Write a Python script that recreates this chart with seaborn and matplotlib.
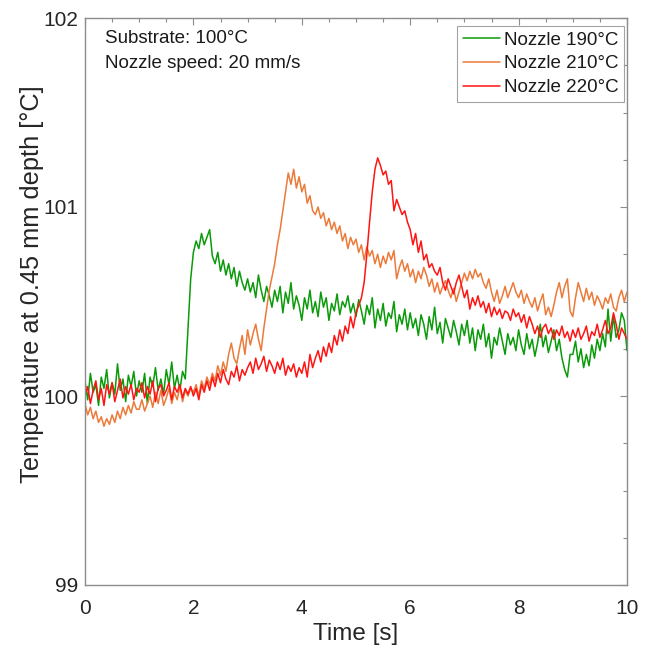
import numpy as np
import pandas as pd
import matplotlib
matplotlib.use("Agg")
import matplotlib.pyplot as plt
import seaborn as sns
from matplotlib.ticker import MultipleLocator

# Time axis: 0 to 10 s, 0.05 s step
time_s = np.round(np.arange(0, 10.0001, 0.05), 2)

nozzle_190 = [
    100.08, 99.98, 100.12, 100.02, 100.06, 99.95, 100.10, 100.04, 100.14, 99.99, 100.07, 100.01, 100.17, 100.03, 100.09, 99.97, 100.11, 100.05, 100.13, 100.00,
    100.08, 100.02, 100.12, 99.96, 100.10, 100.05, 100.15, 100.03, 100.09, 100.01, 100.14, 100.06, 100.18, 100.04, 100.11, 100.03, 100.13, 100.09, 100.35, 100.62,
    100.76, 100.82, 100.78, 100.86, 100.80, 100.84, 100.88, 100.74, 100.70, 100.76, 100.66, 100.72, 100.64, 100.70, 100.62, 100.68, 100.58, 100.66, 100.60, 100.56,
    100.62, 100.55, 100.60, 100.52, 100.64, 100.56, 100.50, 100.58, 100.53, 100.47, 100.56, 100.50, 100.58, 100.44, 100.55, 100.49, 100.60, 100.46, 100.53, 100.48,
    100.40, 100.52, 100.46, 100.56, 100.44, 100.50, 100.42, 100.55, 100.47, 100.52, 100.40, 100.49, 100.45, 100.54, 100.43, 100.50, 100.47, 100.53, 100.44, 100.49,
    100.42, 100.51, 100.45, 100.38, 100.48, 100.43, 100.52, 100.36, 100.46, 100.40, 100.49, 100.37, 100.44, 100.41, 100.50, 100.34, 100.43, 100.38, 100.46, 100.35,
    100.44, 100.36, 100.41, 100.32, 100.43, 100.38, 100.30, 100.42, 100.35, 100.47, 100.33, 100.39, 100.28, 100.41, 100.36, 100.31, 100.40, 100.34, 100.27, 100.38,
    100.32, 100.40, 100.28, 100.36, 100.24, 100.35, 100.30, 100.38, 100.26, 100.33, 100.20, 100.31, 100.27, 100.36, 100.29, 100.22, 100.33, 100.27, 100.31, 100.24,
    100.35, 100.27, 100.22, 100.33, 100.25, 100.30, 100.21, 100.28, 100.38, 100.26, 100.32, 100.23, 100.29, 100.35, 100.24, 100.30, 100.20, 100.14, 100.10, 100.22,
    100.22, 100.29, 100.18, 100.25, 100.15, 100.22, 100.16, 100.27, 100.20, 100.30, 100.24, 100.33, 100.26, 100.46, 100.29, 100.42, 100.31, 100.35, 100.44, 100.40,
    100.24,
]

nozzle_210 = [
    99.96, 99.90, 99.94, 99.88, 99.92, 99.86, 99.89, 99.84, 99.88, 99.85, 99.90, 99.86, 99.92, 99.88, 99.94, 99.90, 99.95, 99.91, 99.97, 99.93,
    99.93, 99.98, 99.92, 99.96, 100.00, 99.94, 100.02, 99.96, 100.03, 99.95, 99.99, 100.04, 99.96, 100.02, 99.98, 100.05, 99.97, 100.03, 100.00, 100.04,
    100.02, 100.06, 100.00, 100.08, 100.04, 100.10, 100.06, 100.12, 100.08, 100.16, 100.11, 100.18, 100.13, 100.22, 100.28, 100.20, 100.17, 100.25, 100.32, 100.22,
    100.35, 100.27, 100.33, 100.38, 100.30, 100.24, 100.36, 100.46, 100.56, 100.63, 100.70, 100.80, 100.88, 100.98, 101.08, 101.18, 101.12, 101.20, 101.10, 101.16,
    101.08, 101.12, 101.02, 101.06, 100.98, 100.96, 101.00, 100.94, 100.97, 100.90, 100.94, 100.88, 100.92, 100.86, 100.90, 100.82, 100.86, 100.78, 100.84, 100.80,
    100.83, 100.76, 100.80, 100.72, 100.79, 100.74, 100.77, 100.70, 100.75, 100.68, 100.74, 100.70, 100.76, 100.72, 100.77, 100.62, 100.68, 100.72, 100.66, 100.70,
    100.63, 100.67, 100.60, 100.66, 100.62, 100.68, 100.64, 100.58, 100.62, 100.55, 100.60, 100.54, 100.58, 100.61, 100.56, 100.52, 100.57, 100.50, 100.55, 100.60,
    100.65, 100.61, 100.66, 100.62, 100.67, 100.63, 100.65, 100.60, 100.57, 100.62, 100.55, 100.50, 100.56, 100.49, 100.53, 100.58, 100.52, 100.56, 100.60, 100.55,
    100.52, 100.56, 100.49, 100.54, 100.50, 100.47, 100.52, 100.45, 100.50, 100.54, 100.43, 100.47, 100.42, 100.48, 100.55, 100.60, 100.52, 100.58, 100.62, 100.45,
    100.42, 100.52, 100.60, 100.55, 100.50, 100.57, 100.51, 100.55, 100.48, 100.53, 100.50, 100.46, 100.52, 100.49, 100.54, 100.47, 100.45, 100.52, 100.56, 100.50,
    100.55,
]

nozzle_220 = [
    100.00, 100.05, 99.96, 100.03, 100.08, 99.98, 100.04, 99.95, 100.06, 100.01, 100.07, 99.97, 100.03, 100.09, 99.99, 100.05, 100.01, 100.06, 99.98, 100.04,
    100.02, 100.07, 99.99, 100.05, 100.01, 100.08, 99.97, 100.04, 100.06, 100.00, 100.03, 100.07, 99.98, 100.05, 100.02, 100.06, 99.99, 100.04, 100.01, 100.05,
    100.00, 100.04, 99.98, 100.06, 100.02, 100.08, 100.03, 100.10, 100.05, 100.12, 100.07, 100.14, 100.09, 100.06, 100.13, 100.10, 100.16, 100.08, 100.14, 100.11,
    100.15, 100.18, 100.12, 100.20, 100.14, 100.17, 100.21, 100.13, 100.19, 100.16, 100.12, 100.18, 100.14, 100.20, 100.11, 100.16, 100.13, 100.17, 100.10, 100.15,
    100.12, 100.18, 100.10, 100.22, 100.15, 100.20, 100.24, 100.18, 100.26, 100.21, 100.28, 100.23, 100.32, 100.27, 100.35, 100.29, 100.37, 100.33, 100.42, 100.36,
    100.44, 100.48, 100.52, 100.60, 100.75, 100.92, 101.08, 101.20, 101.26, 101.22, 101.17, 101.19, 101.12, 101.14, 100.98, 101.04, 101.00, 100.96, 100.98, 100.92,
    100.88, 100.80, 100.86, 100.76, 100.82, 100.72, 100.75, 100.68, 100.70, 100.66, 100.64, 100.68, 100.60, 100.56, 100.62, 100.58, 100.54, 100.60, 100.64, 100.58,
    100.52, 100.56, 100.46, 100.52, 100.48, 100.53, 100.47, 100.50, 100.44, 100.49, 100.42, 100.47, 100.43, 100.46, 100.41, 100.45, 100.44, 100.40, 100.46, 100.42,
    100.44, 100.39, 100.43, 100.36, 100.42, 100.38, 100.33, 100.37, 100.31, 100.36, 100.38, 100.33, 100.36, 100.30, 100.35, 100.32, 100.37, 100.31, 100.34, 100.29,
    100.35, 100.31, 100.36, 100.30, 100.33, 100.37, 100.29, 100.34, 100.32, 100.38, 100.31, 100.35, 100.40, 100.33, 100.36, 100.44, 100.38, 100.30, 100.36, 100.33,
    100.30,
]

series_labels = ["Nozzle 190°C", "Nozzle 210°C", "Nozzle 220°C"]
series_colors = ["#0a9a0a", "#ec7a3a", "#ff1414"]

frames = []
for lab, vals in zip(series_labels, [nozzle_190, nozzle_210, nozzle_220]):
    frames.append(pd.DataFrame({"time": time_s, "temp": vals, "series": lab}))
df = pd.concat(frames, ignore_index=True)

sns.set_theme(style="white")
plt.rcParams["font.family"] = ["Liberation Sans", "DejaVu Sans"]

fig = plt.figure(figsize=(6.49, 6.49), dpi=100)
ax_w, ax_h = (627 - 85), (585 - 18)
ax = fig.add_axes([85 / 649, 1 - 585 / 649, ax_w / 649, ax_h / 649])

sns.lineplot(data=df, x="time", y="temp", hue="series", hue_order=series_labels,
             palette=dict(zip(series_labels, series_colors)), estimator=None,
             sort=False, linewidth=1.1, ax=ax)

ax.set_xlim(0, 10)
ax.set_ylim(99, 102)
ax.xaxis.set_major_locator(MultipleLocator(2))
ax.xaxis.set_minor_locator(MultipleLocator(0.5))
ax.yaxis.set_major_locator(MultipleLocator(1))
ax.yaxis.set_minor_locator(MultipleLocator(0.25))

spine_col = "#8c8c8c"
for s in ax.spines.values():
    s.set_color(spine_col)
    s.set_linewidth(1.0)
ax.tick_params(which="both", direction="in", top=True, right=True, color=spine_col,
               labelsize=15, labelcolor="#262626", width=0.8)
ax.tick_params(which="major", length=5)
ax.tick_params(which="minor", length=3)
ax.tick_params(axis="x", which="major", pad=10)
ax.tick_params(axis="y", which="major", pad=5)

ax.set_xlabel("Time [s]", fontsize=17.5, color="#262626", labelpad=4)
ax.set_ylabel("Temperature at 0.45 mm depth [°C]", fontsize=18.3, color="#262626")
ax.yaxis.set_label_coords(-0.076, 0.531)

ax.text(0.037, 0.978, "Substrate: 100°C\nNozzle speed: 20 mm/s", transform=ax.transAxes,
        ha="left", va="top", fontsize=13.5, color="#1a1a1a", linespacing=1.55)

leg = ax.legend(loc="upper right", bbox_to_anchor=(1 - 3 / ax_w, 1 - 8 / ax_h),
                fontsize=13.5, frameon=True, fancybox=False,
                handlelength=2.0, handletextpad=0.2, borderaxespad=0.0,
                labelspacing=0.35, borderpad=0.3)
leg.get_frame().set_edgecolor(spine_col)
leg.get_frame().set_linewidth(0.8)
for t in leg.get_texts():
    t.set_color("#1a1a1a")

fig.savefig("out.png", dpi=100, facecolor="white")
